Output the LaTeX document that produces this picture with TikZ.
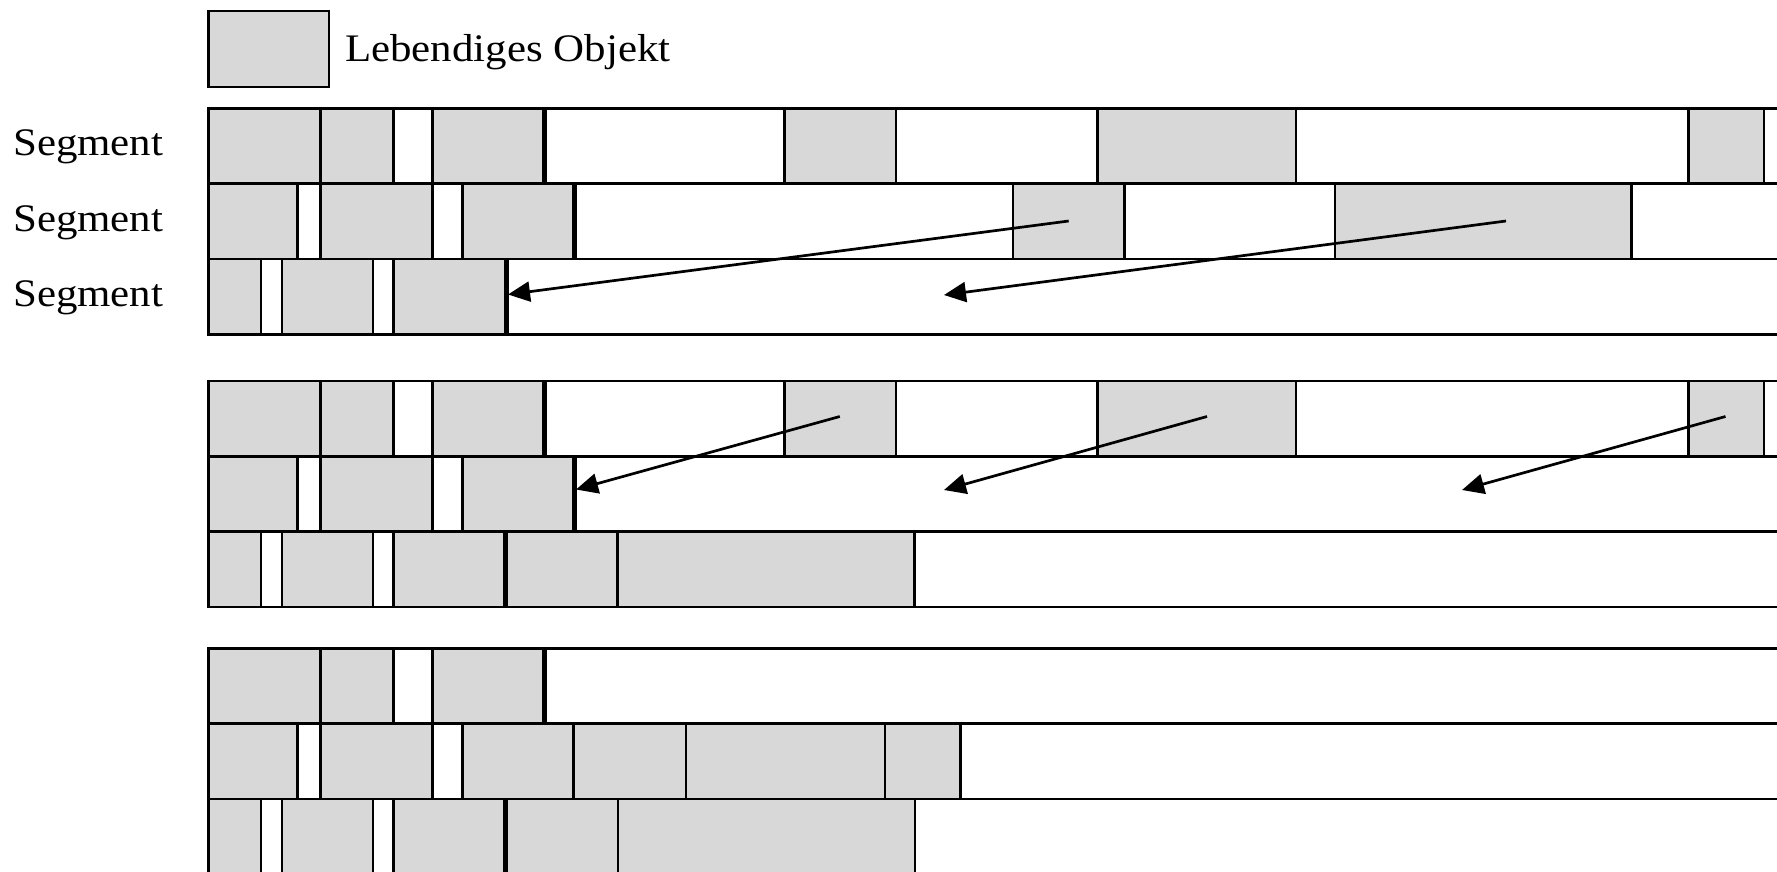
\documentclass[tikz,border=0pt]{standalone}
\usepackage{graphicx}
\usepackage{fontspec}
\setmainfont{Liberation Serif}
\usetikzlibrary{arrows.meta}
\definecolor{objgray}{RGB}{216,216,216}

% one memory segment (a horizontal strip), its top edge at y = #1
\newcommand{\segrow}[1]{\draw[segstrip] (208.5,#1) rectangle (1800,#1+75.3);}
% one live object in the strip whose top edge is at #1, from x = #2 to x = #3
\newcommand{\blk}[3]{\draw[objstyle] (#2,#1) rectangle (#3,#1+75.3);}
% end of the allocated part of a strip
\newcommand{\allocend}[2]{\draw[endline] (#2,#1) -- (#2,#1+75.3);}

\begin{document}
\begin{tikzpicture}[x=1pt,y=-1pt,
  segstrip/.style={draw=black,line width=2.6pt,fill=white},
  objstyle/.style={draw=black,line width=2.6pt,fill=objgray},
  endline/.style={draw=black,line width=5pt},
  ptr/.style={draw=black,line width=2.7pt,-{Triangle[length=22pt,width=20pt]}},
  lbl/.style={anchor=base west,inner sep=0pt,font=\fontsize{39}{45}\selectfont}]

\useasboundingbox (0,0) rectangle (1777,872);
\clip (0,0) rectangle (1777,872);

% legend
\draw[objstyle] (208.5,11) rectangle (329,87);
\node[lbl] (legend) at (345,62) {\scalebox{1.1}[1]{Lebendiges Objekt}};

% segment labels
\node[lbl] (seg1) at (13,156) {\scalebox{1.1}[1]{Segment}};
\node[lbl] (seg2) at (13,231.3) {\scalebox{1.1}[1]{Segment}};
\node[lbl] (seg3) at (13,306.6) {\scalebox{1.1}[1]{Segment}};

% ---------- first state ----------
\segrow{108.3}\segrow{183.6}\segrow{258.9}
\blk{108.3}{208.5}{320.3}\blk{108.3}{320.3}{393.5}\blk{108.3}{432.3}{544.3}
\blk{108.3}{784.5}{895.8}\blk{108.3}{1097.3}{1295.8}\blk{108.3}{1688.6}{1764}
\allocend{108.3}{544.3}
\blk{183.6}{208.5}{297.5}\blk{183.6}{320.7}{432.2}\blk{183.6}{462.4}{574}
\blk{183.6}{1013}{1124.6}\blk{183.6}{1335}{1631.5}
\allocend{183.6}{574}
\blk{258.9}{208.5}{261}\blk{258.9}{282}{373}\blk{258.9}{393.5}{506}
\allocend{258.9}{506}

\coordinate (a1s) at (1068.7,221);
\coordinate (a1e) at (508,294.5);
\coordinate (a2s) at (1506,221);
\coordinate (a2e) at (944,295);
\draw[ptr] (a1s) -- (a1e);
\draw[ptr] (a2s) -- (a2e);

% ---------- second state ----------
\segrow{381}\segrow{456.3}\segrow{531.6}
\blk{381}{208.5}{320.3}\blk{381}{320.3}{393.5}\blk{381}{432.3}{544.3}
\blk{381}{784.5}{895.8}\blk{381}{1097.3}{1295.8}\blk{381}{1688.6}{1764}
\allocend{381}{544.3}
\blk{456.3}{208.5}{297.5}\blk{456.3}{320.7}{432.2}\blk{456.3}{462.4}{574}
\allocend{456.3}{574}
\blk{531.6}{208.5}{261}\blk{531.6}{282}{373}\blk{531.6}{393.5}{505.5}
\blk{531.6}{505.5}{617.7}\blk{531.6}{617.7}{914.5}
\allocend{531.6}{505.5}

\coordinate (b1s) at (839.8,416.5);
\coordinate (b1e) at (576,489.5);
\coordinate (b2s) at (1207,416.5);
\coordinate (b2e) at (944,490);
\coordinate (b3s) at (1725.5,416.5);
\coordinate (b3e) at (1462,490);
\draw[ptr] (b1s) -- (b1e);
\draw[ptr] (b2s) -- (b2e);
\draw[ptr] (b3s) -- (b3e);

% ---------- third state ----------
\segrow{648.3}\segrow{723.6}\segrow{798.9}
\blk{648.3}{208.5}{320.3}\blk{648.3}{320.3}{393.5}\blk{648.3}{432.3}{544.3}
\allocend{648.3}{544.3}
\blk{723.6}{208.5}{297.5}\blk{723.6}{320.7}{432.2}\blk{723.6}{462.4}{573.5}
\blk{723.6}{573.5}{686}\blk{723.6}{686}{885}\blk{723.6}{885}{960.5}
\blk{798.9}{208.5}{261}\blk{798.9}{282}{373}\blk{798.9}{393.5}{505}
\blk{798.9}{505}{618}\blk{798.9}{618}{914.8}
\allocend{798.9}{505}
\end{tikzpicture}
\end{document}
